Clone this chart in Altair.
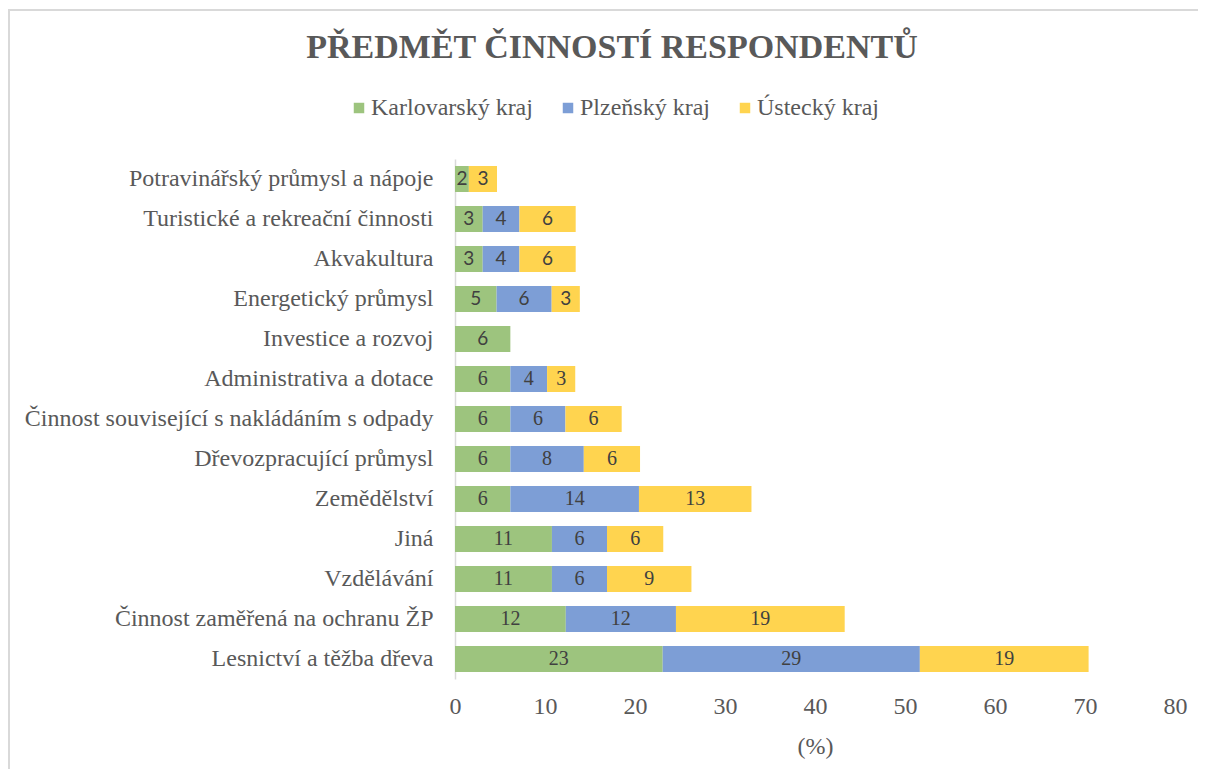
import altair as alt
import pandas as pd

categories = [
    "Potravinářský průmysl a nápoje",
    "Turistické a rekreační činnosti",
    "Akvakultura",
    "Energetický průmysl",
    "Investice a rozvoj",
    "Administrativa a dotace ",
    "Činnost související s nakládáním s odpady",
    "Dřevozpracující průmysl",
    "Zemědělství",
    "Jiná",
    "Vzdělávání",
    "Činnost zaměřená na ochranu ŽP",
    "Lesnictví a těžba dřeva",
]
karlovarsky = [1.54, 3.08, 3.08, 4.62, 6.15, 6.15, 6.15, 6.15, 6.15, 10.77, 10.77, 12.31, 23.08]
plzensky = [0, 4.08, 4.08, 6.12, 0, 4.08, 6.12, 8.16, 14.29, 6.12, 6.12, 12.24, 28.57]
ustecky = [3.13, 6.25, 6.25, 3.13, 0, 3.13, 6.25, 6.25, 12.5, 6.25, 9.38, 18.75, 18.75]
series = ["Karlovarský kraj", "Plzeňský kraj", "Ústecký kraj"]
colors = ["#9DC47E", "#7D9ED6", "#FFD44F"]
sans_rows = categories[:5]

rows = []
for i, c in enumerate(categories):
    for k, (s, vals) in enumerate(zip(series, [karlovarsky, plzensky, ustecky])):
        rows.append({"cat": c, "series": s, "order": k, "value": vals[i],
                     "sans": c in sans_rows})
df = pd.DataFrame(rows)

SERIF = "Liberation Serif"
GRAY = "#595959"

base = alt.Chart(df).transform_stack(
    stack="value", groupby=["cat"], as_=["x0", "x1"],
    sort=[alt.SortField("order", order="ascending")]
).transform_calculate(mid="(datum.x0 + datum.x1) / 2")

y_enc = alt.Y("cat:N", sort=categories,
              scale=alt.Scale(paddingInner=0.35, paddingOuter=0.175),
              axis=alt.Axis(title=None, ticks=False, labelFont=SERIF, labelFontSize=24,
                            labelColor=GRAY, labelPadding=22, domainColor="#D9D9D9",
                            domainWidth=1.5, labelLimit=600))

bars = base.mark_bar().encode(
    x=alt.X("x0:Q", scale=alt.Scale(domain=[0, 80]),
            axis=alt.Axis(title="(%)", values=list(range(0, 81, 10)), grid=False,
                          domain=False, ticks=False, labelFont=SERIF, labelFontSize=24,
                          labelColor=GRAY, labelPadding=15, labelFlush=False,
                          titleFont=SERIF,
                          titleFontSize=24, titleFontWeight="normal", titleColor=GRAY,
                          titlePadding=16)),
    x2="x1:Q",
    y=y_enc,
    color=alt.Color("series:N", sort=series,
                    scale=alt.Scale(domain=series, range=colors),
                    legend=alt.Legend(title=None, orient="none", direction="horizontal",
                                      legendX=-108, legendY=-63, symbolType="square",
                                      symbolSize=110, symbolStrokeWidth=0,
                                      labelFont=SERIF, labelFontSize=24, labelColor=GRAY,
                                      labelLimit=400,
                                      labelOffset=0, columnPadding=23)),
).transform_filter("datum.value > 0")

labels_serif = base.mark_text(font=SERIF, fontSize=20, color="#404040").encode(
    x="mid:Q", y=alt.Y("cat:N", sort=categories),
    text=alt.Text("value:Q", format=".0f"),
).transform_filter("datum.value > 0 && !datum.sans")

labels_sans = base.mark_text(font="Lato", fontSize=19, color="#404040").encode(
    x="mid:Q", y=alt.Y("cat:N", sort=categories),
    text=alt.Text("value:Q", format=".0f"),
).transform_filter("datum.value > 0 && datum.sans")

title = alt.Chart(pd.DataFrame({"t": ["PŘEDMĚT ČINNOSTÍ RESPONDENTŮ"]})).mark_text(
    font=SERIF, fontSize=34, fontWeight="bold", color=GRAY, baseline="middle", align="center"
).encode(x=alt.value(157), y=alt.value(-111), text="t:N")

top_line = alt.Chart(pd.DataFrame({"a": [0]})).mark_rule(color="#D9D9D9", strokeWidth=2).encode(
    x=alt.value(-447), x2=alt.value(750), y=alt.value(-149))
left_line = alt.Chart(pd.DataFrame({"a": [0]})).mark_rule(color="#D9D9D9", strokeWidth=2).encode(
    x=alt.value(-446), y=alt.value(-149), y2=alt.value(620))

chart = alt.layer(top_line, left_line, bars, labels_serif, labels_sans, title).properties(
    width=720, height=520,
    background="white",
    autosize=alt.AutoSizeParams(type="none"),
    padding={"left": 447, "top": 151, "right": 23, "bottom": 90},
).configure_view(stroke=None).configure_axis(labelFont=SERIF, titleFont=SERIF).configure_legend(
    labelFont=SERIF)

chart.save("out.html", embed_options={"renderer": "svg", "actions": False})
